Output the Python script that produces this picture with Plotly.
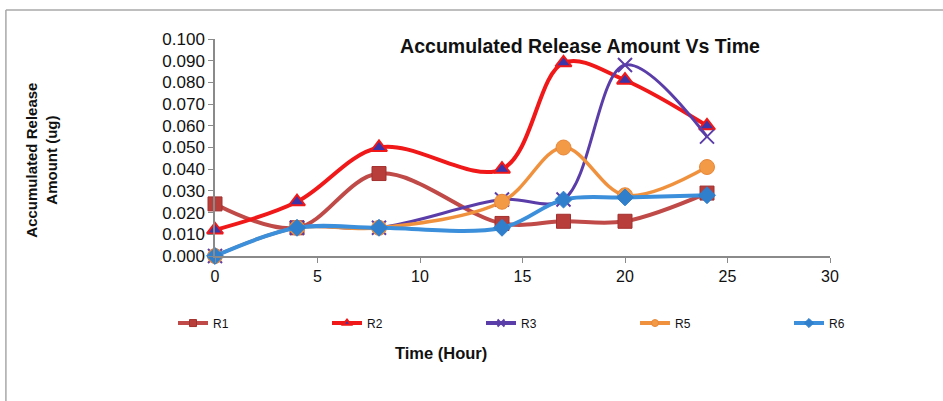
import plotly.graph_objects as go

# Sampling times (hours)
time_h = [0, 4, 8, 14, 17, 20, 24]

# Accumulated release amount (ug) per run
r1 = [0.024, 0.013, 0.038, 0.015, 0.016, 0.016, 0.029]
r2 = [0.012, 0.025, 0.050, 0.040, 0.089, 0.081, 0.060]
r3 = [0.000, 0.013, 0.013, 0.026, 0.026, 0.088, 0.055]
r5 = [0.000, 0.013, 0.013, 0.025, 0.050, 0.028, 0.041]
r6 = [0.000, 0.013, 0.013, 0.013, 0.026, 0.027, 0.028]

series_names = ["R1", "R2", "R3", "R5", "R6"]
x_ticks = [0, 5, 10, 15, 20, 25, 30]
y_ticks = [0.000, 0.010, 0.020, 0.030, 0.040, 0.050, 0.060, 0.070, 0.080, 0.090, 0.100]

FONT = "Arial, Liberation Sans, sans-serif"

styles = {
    "R1": dict(line=dict(color="#BF4A47", width=4),
               marker=dict(symbol="square", size=14, color="#B83E3B",
                           line=dict(color="#A3302E", width=1))),
    "R2": dict(line=dict(color="#F01818", width=4),
               marker=dict(symbol="triangle-up", size=14, color="#3A35A8",
                           line=dict(color="#F01818", width=2))),
    "R3": dict(line=dict(color="#5A3DA8", width=3),
               marker=dict(symbol="x-thin", size=14, color="#5A3DA8",
                           line=dict(color="#5A3DA8", width=2))),
    "R5": dict(line=dict(color="#F0913E", width=3.5),
               marker=dict(symbol="circle", size=15, color="#F29A45",
                           line=dict(color="#E9873A", width=1))),
    "R6": dict(line=dict(color="#3B8FDB", width=4),
               marker=dict(symbol="diamond", size=13, color="#2F7FCC",
                           line=dict(color="#2F7FCC", width=1))),
}

fig = go.Figure()
for name, vals in zip(series_names, [r1, r2, r3, r5, r6]):
    st = styles[name]
    fig.add_trace(go.Scatter(
        x=time_h, y=vals, name=name, mode="lines+markers",
        line=dict(shape="spline", smoothing=1.0, **st["line"]),
        marker=st["marker"], cliponaxis=False, showlegend=False,
    ))

# Legend keys: same line styles with small markers
for name in series_names:
    st = styles[name]
    mk = dict(st["marker"])
    mk["size"] = 7
    fig.add_trace(go.Scatter(
        x=[None], y=[None], name=name, mode="lines+markers",
        line=dict(color=st["line"]["color"], width=4), marker=mk,
        showlegend=True,
    ))

fig.update_layout(
    width=943, height=401,
    margin=dict(l=215, r=113, t=39, b=145),
    paper_bgcolor="white", plot_bgcolor="white",
    font=dict(family=FONT, color="#111"),
    showlegend=True,
    legend=dict(orientation="h", x=-0.001, xanchor="left", y=-0.309, yanchor="middle",
                entrywidth=109, entrywidthmode="pixels",
                font=dict(size=12, family=FONT), bgcolor="rgba(0,0,0,0)",
                traceorder="normal"),
    title=dict(text="<b>Accumulated Release Amount Vs Time</b>",
               x=0.5935, xref="paper", xanchor="center",
               y=1 - 46 / 401, yref="container", yanchor="middle",
               font=dict(size=19.5, family=FONT, color="#111")),
)

fig.update_xaxes(range=[0, 30], tickvals=x_ticks, showgrid=False, zeroline=False,
                 showline=True, linecolor="#8a8a8a", linewidth=1.5,
                 ticks="outside", ticklen=5, tickcolor="#8a8a8a",
                 tickfont=dict(size=16, family=FONT, color="#111"))
fig.update_yaxes(range=[0, 0.1], tickvals=y_ticks, tickformat=".3f",
                 showgrid=False, zeroline=False,
                 showline=True, linecolor="#8a8a8a", linewidth=1.5,
                 ticks="outside", ticklen=5, tickcolor="#8a8a8a",
                 tickfont=dict(size=17, family=FONT, color="#111"))

# Axis titles
fig.add_annotation(text="<b>Time (Hour)</b>", xref="paper", yref="paper",
                   x=0.367, y=-0.497, xanchor="center", yanchor="bottom",
                   showarrow=False,
                   font=dict(size=16.5, family=FONT, color="#111"))
fig.add_annotation(text="<b>Accumulated Release<br>Amount (ug)</b>",
                   xref="paper", yref="paper", x=-0.282, y=0.442,
                   xanchor="center", yanchor="middle",
                   textangle=-90, showarrow=False,
                   font=dict(size=15, family=FONT, color="#111"))

# Chart-area frame (top and left edges)
fig.add_shape(type="line", xref="paper", yref="paper",
              x0=-0.340, x1=1.2, y0=1.134, y1=1.134,
              line=dict(color="#a8a8a8", width=1.5))
fig.add_shape(type="line", xref="paper", yref="paper",
              x0=-0.340, x1=-0.340, y0=1.134, y1=-0.70,
              line=dict(color="#a8a8a8", width=1.5))

fig.write_html("out.html")
